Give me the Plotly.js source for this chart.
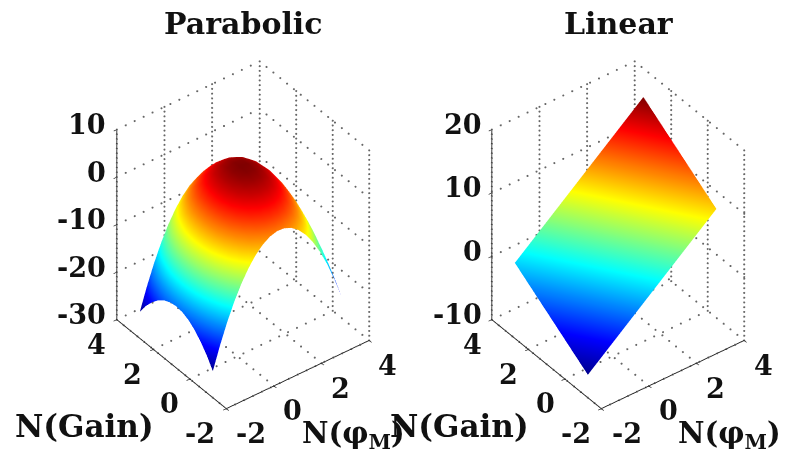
<!DOCTYPE html>
<html><head><meta charset="utf-8">
<script src="https://cdn.plot.ly/plotly-3.0.1.min.js"></script>
<style>html,body{margin:0;padding:0;background:#fff}</style></head>
<body><div id="chart" style="width:786px;height:452px"></div>
<script>
const titles = ['Parabolic', 'Linear'];
const xLabel = 'N(φ<sub>M</sub>)';
const yLabel = 'N(Gain)';
const xyTicks = [-2, 0, 2, 4];
const zTicksA = [-30, -20, -10, 0, 10];
const zTicksB = [-10, 0, 10, 20];

const parabolicX = [-2,-1.7,-1.4,-1.1,-0.8,-0.5,-0.2,0.1,0.4,0.7,1,1.3,1.6,1.9,2.2,2.5,2.8,3.1,3.4];
const parabolicY = [-1.26,-0.93,-0.59,-0.26,0.07,0.41,0.74,1.07,1.41,1.74,2.07,2.41,2.74];
const parabolicZ = [
 [-24.44,-19.75,-15.60,-11.97,-8.88,-6.33,-4.30,-2.81,-1.85,-1.42,-1.53,-2.17,-3.34,-5.05,-7.28,-10.06,-13.36,-17.19,-21.56],
 [-22.18,-17.49,-13.34,-9.71,-6.62,-4.07,-2.04,-0.55,0.41,0.84,0.73,0.09,-1.08,-2.79,-5.02,-7.80,-11.10,-14.93,-19.30],
 [-20.33,-15.64,-11.49,-7.86,-4.77,-2.22,-0.19,1.30,2.26,2.69,2.58,1.94,0.77,-0.94,-3.17,-5.95,-9.25,-13.08,-17.45],
 [-18.89,-14.20,-10.05,-6.42,-3.33,-0.78,1.25,2.74,3.70,4.13,4.02,3.38,2.21,0.50,-1.73,-4.51,-7.81,-11.64,-16.01],
 [-17.86,-13.17,-9.02,-5.39,-2.30,0.25,2.28,3.77,4.73,5.16,5.05,4.41,3.24,1.53,-0.70,-3.48,-6.78,-10.61,-14.98],
 [-17.25,-12.56,-8.41,-4.78,-1.69,0.86,2.89,4.38,5.34,5.77,5.66,5.02,3.85,2.14,-0.09,-2.87,-6.17,-10.00,-14.37],
 [-17.04,-12.35,-8.20,-4.57,-1.48,1.07,3.10,4.59,5.55,5.98,5.87,5.23,4.06,2.35,0.12,-2.66,-5.96,-9.79,-14.16],
 [-17.25,-12.56,-8.41,-4.78,-1.69,0.86,2.89,4.38,5.34,5.77,5.66,5.02,3.85,2.14,-0.09,-2.87,-6.17,-10.00,-14.37],
 [-17.86,-13.17,-9.02,-5.39,-2.30,0.25,2.28,3.77,4.73,5.16,5.05,4.41,3.24,1.53,-0.70,-3.48,-6.78,-10.61,-14.98],
 [-18.89,-14.20,-10.05,-6.42,-3.33,-0.78,1.25,2.74,3.70,4.13,4.02,3.38,2.21,0.50,-1.73,-4.51,-7.81,-11.64,-16.01],
 [-20.33,-15.64,-11.49,-7.86,-4.77,-2.22,-0.19,1.30,2.26,2.69,2.58,1.94,0.77,-0.94,-3.17,-5.95,-9.25,-13.08,-17.45],
 [-22.18,-17.49,-13.34,-9.71,-6.62,-4.07,-2.04,-0.55,0.41,0.84,0.73,0.09,-1.08,-2.79,-5.02,-7.80,-11.10,-14.93,-19.30],
 [-24.44,-19.75,-15.60,-11.97,-8.88,-6.33,-4.30,-2.81,-1.85,-1.42,-1.53,-2.17,-3.34,-5.05,-7.28,-10.06,-13.36,-17.19,-21.56]
];

const linearX = [-2, -1.1, -0.2, 0.7, 1.6, 2.5, 3.4];
const linearY = [-1.26, -0.26, 0.74, 1.74, 2.74];
const linearZ = [
 [-6.4,-3.65,-0.9,1.85,4.6,7.35,10.1],
 [-4.33,-1.58,1.17,3.92,6.67,9.42,12.17],
 [-2.25,0.5,3.25,6,8.75,11.5,14.25],
 [-0.18,2.57,5.32,8.07,10.82,13.57,16.32],
 [1.9,4.65,7.4,10.15,12.9,15.65,18.4]
];

const jet = [[0,'#00008f'],[0.125,'#0000ff'],[0.375,'#00ffff'],[0.625,'#ffff00'],[0.875,'#ff0000'],[1,'#800000']];
const FONT = '"DejaVu Serif", serif';
const TICKFONT = {family: FONT, size: 27, color: '#111', weight: 'bold'};
const EYE = 1.35;

function dots(a, b, n, out) {
  for (let i = 0; i <= n; i++) {
    const f = i / n;
    out.x.push(a[0] + (b[0] - a[0]) * f); out.y.push(a[1] + (b[1] - a[1]) * f); out.z.push(a[2] + (b[2] - a[2]) * f);
  }
}

function panelTraces(scene, X, Y, Z, zt) {
  const lo = xyTicks[0], hi = xyTicks[xyTicks.length - 1], zl = zt[0], zh = zt[zt.length - 1];
  const grid = {x: [], y: [], z: []};
  const H = 16, V = 40;
  xyTicks.forEach(t => {
    dots([t, lo, zl], [t, hi, zl], H, grid); dots([lo, t, zl], [hi, t, zl], H, grid);
    dots([t, hi, zl], [t, hi, zh], V, grid); dots([hi, t, zl], [hi, t, zh], V, grid);
  });
  zt.forEach(t => {
    dots([lo, hi, t], [hi, hi, t], H, grid); dots([hi, lo, t], [hi, hi, t], H, grid);
  });
  return [
    {type: 'surface', scene, x: X, y: Y, z: Z, colorscale: jet, showscale: false, hoverinfo: 'skip',
     lighting: {ambient: 1, diffuse: 0, specular: 0, roughness: 1, fresnel: 0},
     contours: {x: {highlight: false}, y: {highlight: false}, z: {highlight: false}}},
    {type: 'scatter3d', scene, mode: 'markers', x: grid.x, y: grid.y, z: grid.z, hoverinfo: 'skip',
     marker: {color: '#666', size: 1.2, line: {width: 0}}, showlegend: false}
  ];
}

function lineAxis(r, ticks) {
  return {range: r, autorange: false, visible: true, showgrid: false, zeroline: false, showline: true, linecolor: '#222', linewidth: 2,
          showticklabels: false, showbackground: false, showspikes: false, ticks: 'outside', ticklen: 4, tickwidth: 1.5, tickcolor: '#222',
          tickmode: 'array', tickvals: ticks, title: {text: ''}};
}

function panelScene(cx, zt) {
  const lo = xyTicks[0], hi = xyTicks[xyTicks.length - 1], zl = zt[0], zh = zt[zt.length - 1];
  const ann = [];
  const txt = (x, y, z, text, xs, ys, xa, font) => ann.push({x, y, z, text, showarrow: false, xshift: xs, yshift: ys, xanchor: xa || 'center', yanchor: 'middle', font: font || TICKFONT});
  xyTicks.forEach(t => {
    txt(t, lo, zl, String(t), t === lo ? 25 : 19, -25);
    txt(lo, t, zl, String(t), t === lo ? -26 : -20, -25);
  });
  zt.forEach(t => txt(lo, hi, t, String(t), -8, 5, 'right'));
  txt(1, lo, zl, xLabel, 56, -60, 'center', {...TICKFONT, size: 29});
  txt(lo, 1, zl, yLabel, -87, -62, 'center', {...TICKFONT, size: 31});
  return {
    domain: {x: [(cx - 165) / 786, (cx + 165) / 786], y: [1 - 415 / 452, 1 - 55 / 452]},
    aspectmode: 'manual', aspectratio: {x: 1, y: 1, z: 1.35},
    camera: {projection: {type: 'orthographic'}, center: {x: 0, y: 0, z: 0}, up: {x: 0, y: 0, z: 1},
             eye: {x: -0.476 * EYE, y: -0.621 * EYE, z: 0.623 * EYE}},
    xaxis: lineAxis([lo, hi], xyTicks), yaxis: lineAxis([lo, hi], xyTicks), zaxis: lineAxis([zl, zh], zt),
    bgcolor: 'rgba(0,0,0,0)', dragmode: false, annotations: ann
  };
}

const TITLEFONT = {family: FONT, size: 30, color: '#111', weight: 'bold'};
const data = [...panelTraces('scene', parabolicX, parabolicY, parabolicZ, zTicksA),
              ...panelTraces('scene2', linearX, linearY, linearZ, zTicksB)];
const layout = {
  width: 786, height: 452, margin: {l: 0, r: 0, t: 0, b: 0}, paper_bgcolor: '#fff', showlegend: false,
  scene: panelScene(242.5, zTicksA), scene2: panelScene(618.4, zTicksB),
  annotations: [
    {xref: 'paper', yref: 'paper', x: 243 / 786, y: 1 - 23 / 452, xanchor: 'center', yanchor: 'middle', text: titles[0], showarrow: false, font: TITLEFONT},
    {xref: 'paper', yref: 'paper', x: 618.5 / 786, y: 1 - 23 / 452, xanchor: 'center', yanchor: 'middle', text: titles[1], showarrow: false, font: TITLEFONT}
  ]
};
Plotly.newPlot('chart', data, layout, {displayModeBar: false});
</script></body></html>
